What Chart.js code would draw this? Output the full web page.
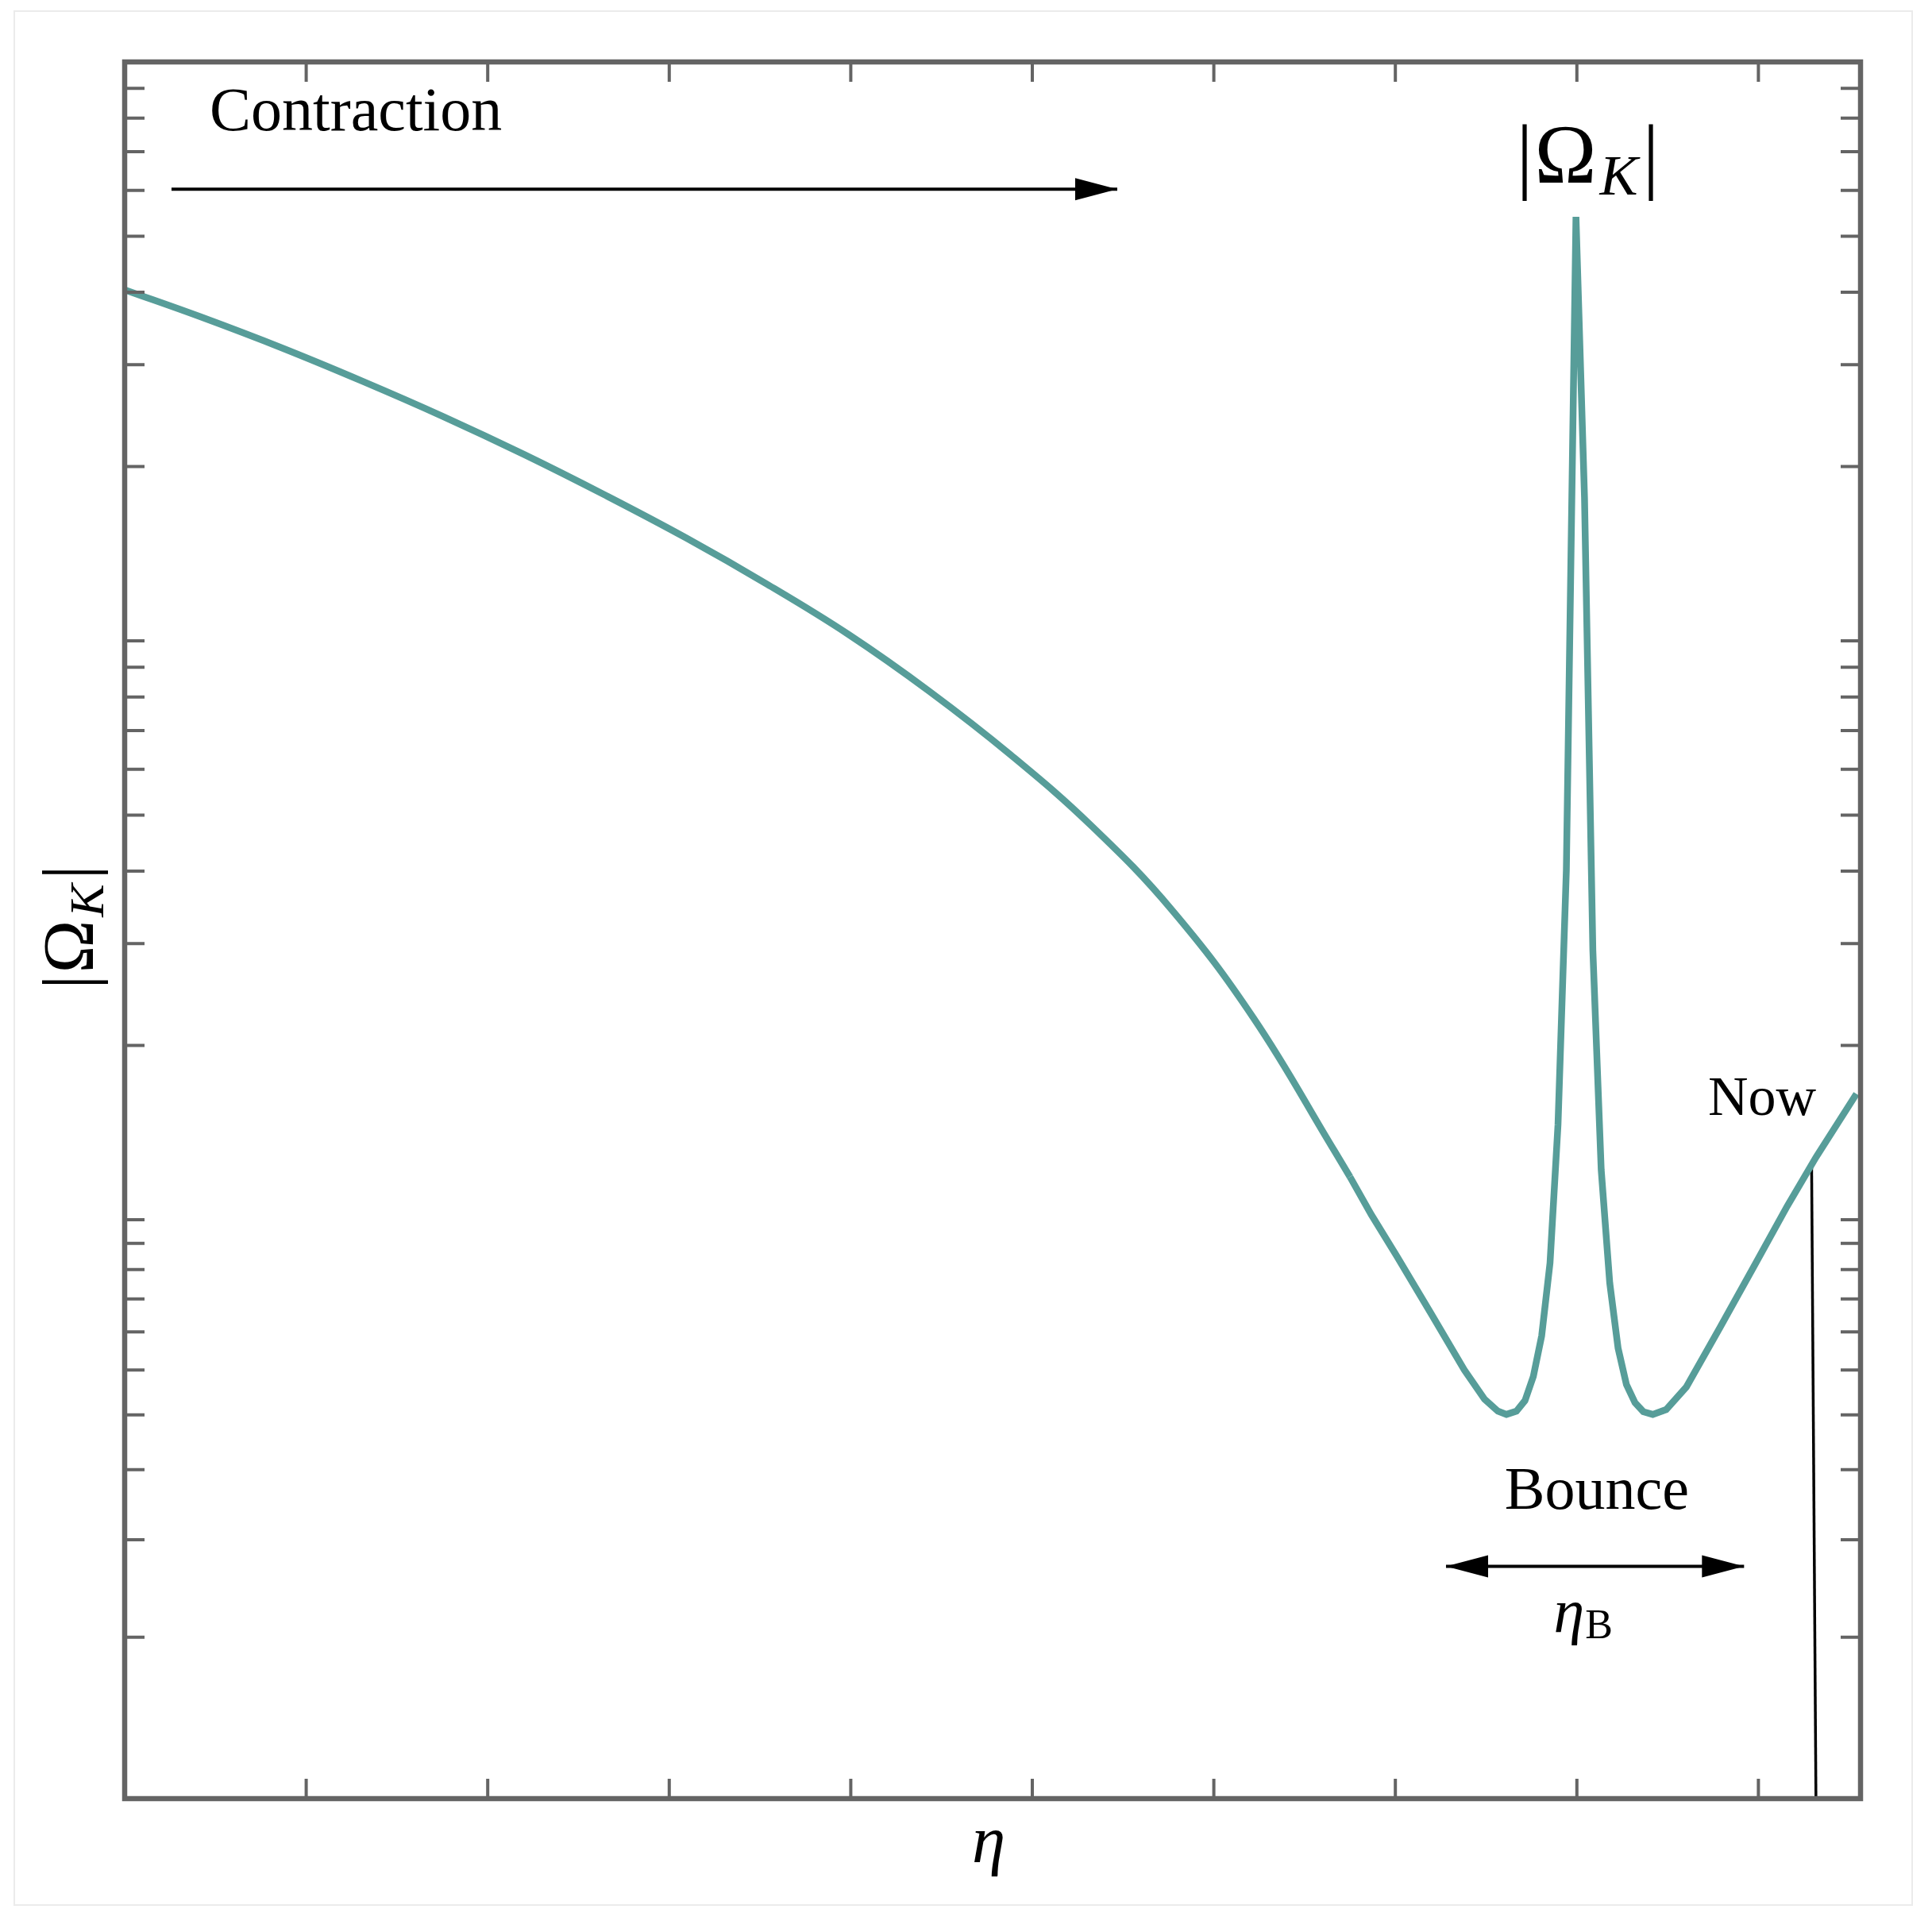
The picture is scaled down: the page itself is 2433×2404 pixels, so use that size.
<!DOCTYPE html>
<html lang="en">
<head>
  <meta charset="UTF-8" />
  <title>|Ω_K| through the bounce</title>
  <script src="https://cdn.jsdelivr.net/npm/chart.js"></script>
  <style>
    html, body { margin: 0; padding: 0; background: #ffffff; }
    #wrap { width: 2433px; height: 2404px; position: relative; }
  </style>
</head>
<body>
  <div id="wrap"><canvas id="omegaChart"></canvas></div>

  <script>
    // conformal time (tick units) and |Omega_K| along the curve
    const eta = [
      0, 0.416, 0.862, 1.308, 1.755, 2.201, 2.647, 3.094, 3.540, 3.987,
      4.433, 4.879, 5.326, 5.772, 6.219, 6.665, 6.750, 6.868, 7.007, 7.195,
      7.380, 7.491, 7.565, 7.612, 7.667, 7.714, 7.760, 7.806, 7.852, 7.896,
      7.942, 7.995, 8.042, 8.088, 8.134, 8.181, 8.227, 8.273, 8.320, 8.366,
      8.418, 8.492, 8.603, 8.788, 8.974, 9.159, 9.317, 9.540
    ];
    const omegaK = [
      40.4, 36.3, 32.1, 28.1, 24.4, 20.98, 17.85, 15.05, 12.52, 10.26,
      8.18, 6.36, 4.79, 3.42, 2.23, 1.314, 1.186, 1.02, 0.866, 0.690,
      0.550, 0.490, 0.467, 0.461, 0.467, 0.487, 0.536, 0.630, 0.842, 1.46,
      4.02, 54.0, 17.7, 2.92, 1.22, 0.778, 0.600, 0.519, 0.483, 0.466,
      0.461, 0.470, 0.514, 0.651, 0.829, 1.056, 1.282, 1.65
    ];
    // the contracting branch is smooth, the bounce is drawn point to point
    const smoothEnd = 16;

    // arrows and the "now" marker
    const contractionEta = [0.258, 5.468];
    const contractionOmega = [60.3, 60.3];
    const bounceEta = [7.279, 8.921];
    const bounceOmega = [0.252, 0.252];
    const nowEta = [9.293, 9.317];
    const nowOmega = [1.25, 0.1];

    // ticks (no labels)
    const etaTicks = [1, 2, 3, 4, 5, 6, 7, 8, 9];
    const omegaTicks = [
      0.19, 0.28, 0.37, 0.46, 0.55, 0.64, 0.73, 0.82, 0.91, 1,
      2, 3, 4, 5, 6, 7, 8, 9, 10,
      20, 30, 40, 50, 60, 70, 80, 90
    ];

    const serif = '"Liberation Serif", "DejaVu Serif", serif';
    const teal = '#579d99';
    const axisGray = '#646464';

    function pts(xs, ys) {
      return xs.map((x, i) => ({ x: x, y: ys[i] }));
    }

    // text labels placed in data coordinates
    const notes = [
      { text: 'Contraction', x: 0.468, y: 76.3, size: 78, align: 'left' },
      { text: 'Now', x: 8.723, y: 1.515, size: 70, align: 'left' },
      { text: 'Bounce', x: 8.11, y: 0.317, size: 76, align: 'center' }
    ];

    function omegaRuns(s) {
      return [
        { text: '|', font: s + 'px ' + serif, gap: 2 },
        { text: 'Ω', font: s + 'px ' + serif, gap: 4 },
        { text: 'K', font: 'italic ' + Math.round(s * 0.69) + 'px ' + serif, dy: s * 0.14, gap: 6 },
        { text: '|', font: s + 'px ' + serif }
      ];
    }

    function drawRuns(ctx, runs, x, y, align) {
      let total = 0;
      runs.forEach(r => {
        ctx.font = r.font;
        r.w = ctx.measureText(r.text).width;
        total += r.w + (r.gap || 0);
      });
      let cx = align === 'center' ? x - total / 2 : x;
      runs.forEach(r => {
        ctx.font = r.font;
        ctx.fillText(r.text, cx, y + (r.dy || 0));
        cx += r.w + (r.gap || 0);
      });
    }

    function arrowHead(ctx, tipX, tipY, dir) {
      const len = 53, half = 14;
      ctx.beginPath();
      ctx.moveTo(tipX, tipY);
      ctx.lineTo(tipX - dir * len, tipY - half);
      ctx.lineTo(tipX - dir * len, tipY + half);
      ctx.closePath();
      ctx.fill();
    }

    const framePlugin = {
      id: 'frame',
      beforeDraw(chart) {
        const ctx = chart.ctx;
        ctx.save();
        ctx.fillStyle = '#ffffff';
        ctx.fillRect(0, 0, chart.width, chart.height);
        ctx.strokeStyle = '#ebebeb';
        ctx.lineWidth = 2;
        ctx.strokeRect(18, 14, 2390, 2385);
        ctx.restore();
      },
      afterDatasetsDraw(chart) {
        const ctx = chart.ctx;
        const a = chart.chartArea;
        const xs = chart.scales.x;
        const ys = chart.scales.y;
        const tick = 25;

        ctx.save();
        // inward ticks on all four sides
        ctx.strokeStyle = axisGray;
        ctx.lineWidth = 4;
        ctx.beginPath();
        etaTicks.forEach(t => {
          const px = xs.getPixelForValue(t);
          ctx.moveTo(px, a.bottom); ctx.lineTo(px, a.bottom - tick);
          ctx.moveTo(px, a.top); ctx.lineTo(px, a.top + tick);
        });
        omegaTicks.forEach(t => {
          const py = ys.getPixelForValue(t);
          ctx.moveTo(a.left, py); ctx.lineTo(a.left + tick, py);
          ctx.moveTo(a.right, py); ctx.lineTo(a.right - tick, py);
        });
        ctx.stroke();

        ctx.lineWidth = 6.5;
        ctx.strokeRect(a.left, a.top, a.right - a.left, a.bottom - a.top);

        // arrow heads
        ctx.fillStyle = '#000000';
        arrowHead(ctx, xs.getPixelForValue(contractionEta[1]), ys.getPixelForValue(contractionOmega[1]), 1);
        arrowHead(ctx, xs.getPixelForValue(bounceEta[0]), ys.getPixelForValue(bounceOmega[0]), -1);
        arrowHead(ctx, xs.getPixelForValue(bounceEta[1]), ys.getPixelForValue(bounceOmega[1]), 1);

        // annotations
        ctx.textBaseline = 'alphabetic';
        notes.forEach(n => {
          ctx.font = n.size + 'px ' + serif;
          ctx.textAlign = 'left';
          let px = xs.getPixelForValue(n.x);
          if (n.align === 'center') px -= ctx.measureText(n.text).width / 2;
          ctx.fillText(n.text, px, ys.getPixelForValue(n.y));
        });
        ctx.textAlign = 'left';

        drawRuns(ctx, omegaRuns(105), xs.getPixelForValue(8.06), ys.getPixelForValue(61.8), 'center');

        drawRuns(ctx, [
          { text: 'η', font: 'italic 78px ' + serif, gap: 1 },
          { text: 'B', font: '52px ' + serif, dy: 8 }
        ], xs.getPixelForValue(7.872), ys.getPixelForValue(0.194), 'left');

        // axis titles
        ctx.font = 'italic 85px ' + serif;
        const w = ctx.measureText('η').width;
        ctx.fillText('η', (a.left + a.right) / 2 - 5 - w / 2, a.bottom + 80);

        ctx.translate(a.left - 40, (a.top + a.bottom) / 2 - 4);
        ctx.rotate(-Math.PI / 2);
        drawRuns(ctx, omegaRuns(90), 0, 0, 'center');
        ctx.restore();
      }
    };

    new Chart(document.getElementById('omegaChart'), {
      type: 'line',
      data: {
        datasets: [
          {
            data: pts(eta.slice(0, smoothEnd + 1), omegaK.slice(0, smoothEnd + 1)),
            borderColor: teal,
            borderWidth: 8.5,
            tension: 0.4,
            order: 0
          },
          {
            data: pts(eta.slice(smoothEnd), omegaK.slice(smoothEnd)),
            borderColor: teal,
            borderWidth: 8.5,
            tension: 0,
            order: 0
          },
          {
            data: pts(contractionEta, contractionOmega),
            borderColor: '#000000',
            borderWidth: 4,
            order: 1
          },
          {
            data: pts(bounceEta, bounceOmega),
            borderColor: '#000000',
            borderWidth: 4,
            order: 1
          },
          {
            data: pts(nowEta, nowOmega),
            borderColor: '#000000',
            borderWidth: 3.5,
            order: 1
          }
        ]
      },
      options: {
        responsive: true,
        maintainAspectRatio: false,
        animation: false,
        layout: { padding: { left: 157, right: 90, top: 78, bottom: 139 } },
        elements: { point: { radius: 0 } },
        plugins: {
          legend: { display: false },
          tooltip: { enabled: false }
        },
        scales: {
          x: { type: 'linear', min: 0, max: 9.5626, display: false },
          y: { type: 'logarithmic', min: 0.1, max: 100, display: false }
        }
      },
      plugins: [framePlugin]
    });
  </script>
</body>
</html>
